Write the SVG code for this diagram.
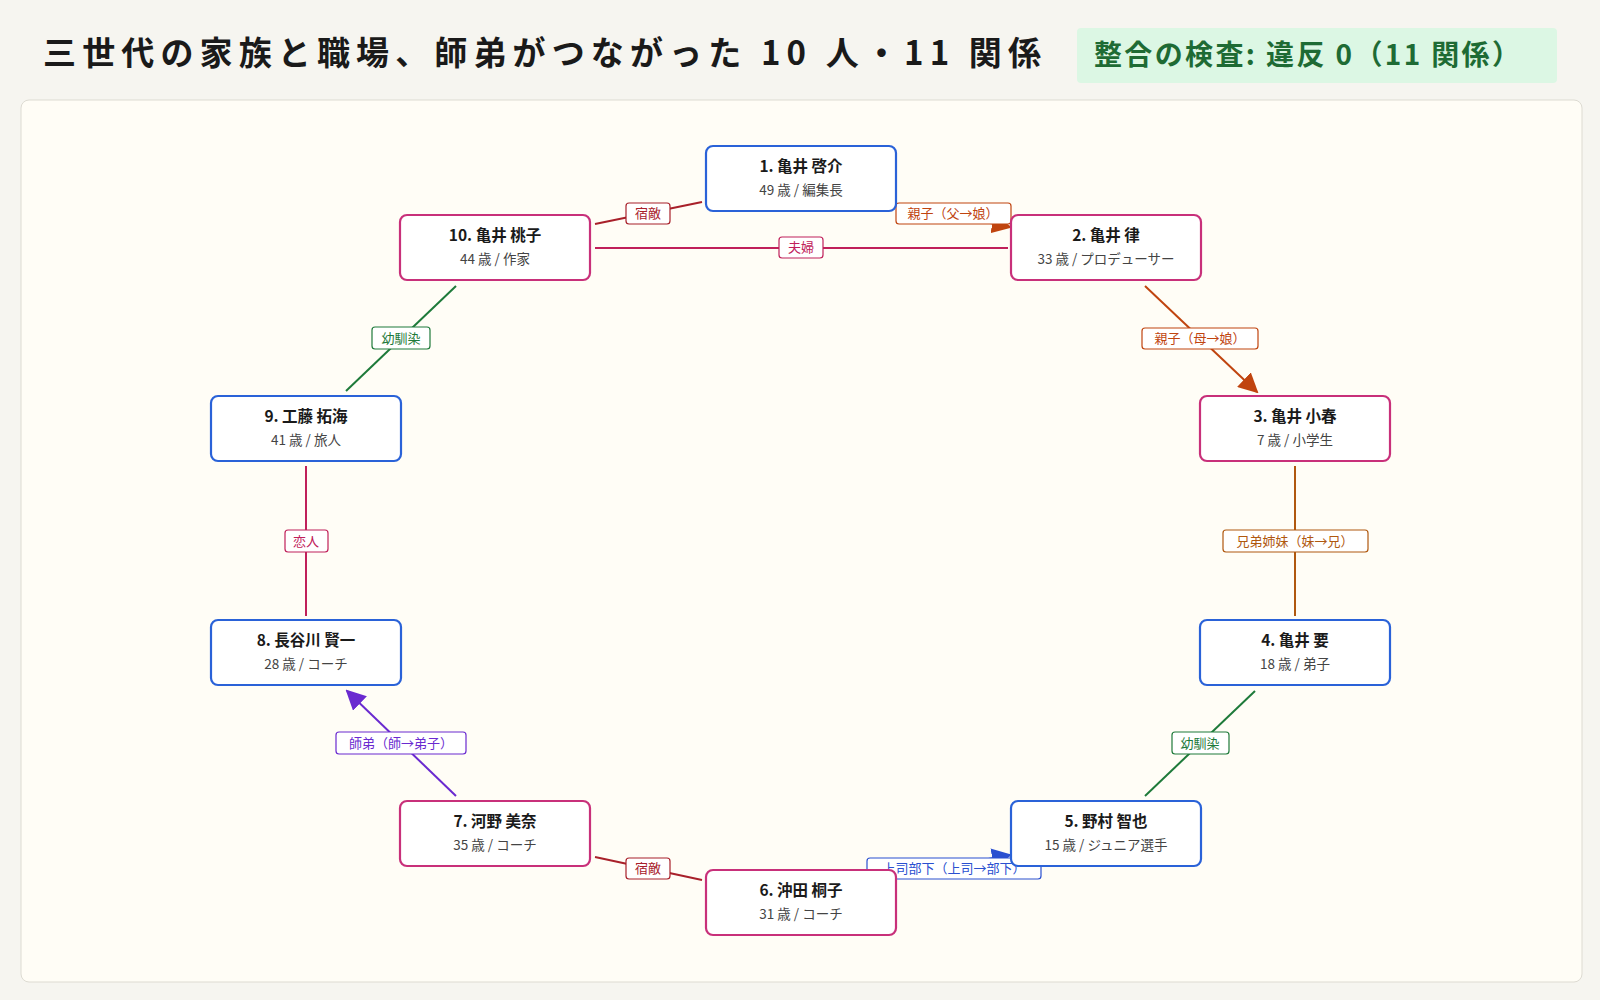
<svg xmlns="http://www.w3.org/2000/svg" width="1600" height="1000" viewBox="0 0 1600 1000">
<defs>
<style>
text{font-family:"Noto Sans CJK JP","Noto Sans",sans-serif}
.nb{fill:#fff;stroke-width:2.2}
.m{stroke:#2a62d8}.f{stroke:#c8307a}
.t{font-size:15.5px;font-weight:bold;fill:#1a1a1a;text-anchor:middle}
.s{font-size:13.5px;fill:#444;text-anchor:middle}
.e{fill:none;stroke-width:2}
.lb{fill:#fff;stroke-width:1.2}
.lt{font-size:13px;text-anchor:middle}
</style>
<marker id="aOL" viewBox="0 0 10 10" refX="9" refY="5" markerWidth="20" markerHeight="20" orient="auto" markerUnits="userSpaceOnUse"><path d="M0,0L10,5L0,10z" fill="#c0440f"/></marker>
<marker id="aB" viewBox="0 0 10 10" refX="9" refY="5" markerWidth="20" markerHeight="20" orient="auto" markerUnits="userSpaceOnUse"><path d="M0,0L10,5L0,10z" fill="#2a50d0"/></marker>
<marker id="aP" viewBox="0 0 10 10" refX="9" refY="5" markerWidth="20" markerHeight="20" orient="auto" markerUnits="userSpaceOnUse"><path d="M0,0L10,5L0,10z" fill="#6a2ad0"/></marker>
</defs>
<rect width="1600" height="1000" fill="#f6f5f0"/>
<text x="43" y="65" font-size="33" font-weight="bold" fill="#1a1a1a" textLength="998" lengthAdjust="spacing">三世代の家族と職場、師弟がつながった 10 人・11 関係</text>
<rect x="1077" y="28" width="480" height="55" rx="4" fill="#dcf7e4"/>
<text x="1094" y="65" font-size="28" font-weight="bold" fill="#1e6b34" textLength="426" lengthAdjust="spacing">整合の検査: 違反 0（11 関係）</text>
<rect x="21" y="100" width="1561" height="882" rx="8" fill="#fffdf6" stroke="#dddbd2"/>
<g id="connectors">
<line class="e" x1="595" y1="224" x2="702" y2="202" stroke="#a8202a"/>
<rect class="lb" x="626" y="203" width="44" height="21" rx="3" stroke="#a8202a"/><text class="lt" x="648" y="218" fill="#a8202a">宿敵</text>
<line class="e" x1="896" y1="204" x2="1010" y2="227" stroke="#c0440f" marker-end="url(#aOL)"/>
<rect class="lb" x="896" y="203" width="115" height="21" rx="3" stroke="#c0440f"/><text class="lt" x="953" y="218" fill="#c0440f">親子（父→娘）</text>
<line class="e" x1="595" y1="248" x2="1008" y2="248" stroke="#c0205a"/>
<rect class="lb" x="779" y="237" width="44" height="21" rx="3" stroke="#c0205a"/><text class="lt" x="801" y="252" fill="#c0205a">夫婦</text>
<line class="e" x1="1145" y1="286" x2="1257" y2="392" stroke="#c0440f" marker-end="url(#aOL)"/>
<rect class="lb" x="1142" y="328" width="116" height="21" rx="3" stroke="#c0440f"/><text class="lt" x="1200" y="343" fill="#c0440f">親子（母→娘）</text>
<line class="e" x1="1295" y1="466" x2="1295" y2="616" stroke="#b0580f"/>
<rect class="lb" x="1223" y="530" width="145" height="22" rx="3" stroke="#b0580f"/><text class="lt" x="1295" y="546" fill="#b0580f">兄弟姉妹（妹→兄）</text>
<line class="e" x1="1255" y1="691" x2="1145" y2="796" stroke="#1e7a3a"/>
<rect class="lb" x="1172" y="732" width="57" height="22" rx="3" stroke="#1e7a3a"/><text class="lt" x="1200" y="748" fill="#1e7a3a">幼馴染</text>
<line class="e" x1="896" y1="876" x2="1010" y2="855" stroke="#2a50d0" marker-end="url(#aB)"/>
<rect class="lb" x="867" y="858" width="174" height="21" rx="3" stroke="#2a50d0"/><text class="lt" x="954" y="873" fill="#2a50d0">上司部下（上司→部下）</text>
<line class="e" x1="595" y1="857" x2="702" y2="880" stroke="#a8202a"/>
<rect class="lb" x="626" y="858" width="44" height="21" rx="3" stroke="#a8202a"/><text class="lt" x="648" y="873" fill="#a8202a">宿敵</text>
<line class="e" x1="456" y1="796" x2="347" y2="691" stroke="#6a2ad0" marker-end="url(#aP)"/>
<rect class="lb" x="336" y="732" width="130" height="22" rx="3" stroke="#6a2ad0"/><text class="lt" x="401" y="748" fill="#6a2ad0">師弟（師→弟子）</text>
<line class="e" x1="306" y1="466" x2="306" y2="616" stroke="#c0205a"/>
<rect class="lb" x="285" y="530" width="43" height="22" rx="3" stroke="#c0205a"/><text class="lt" x="306" y="546" fill="#c0205a">恋人</text>
<line class="e" x1="346" y1="391" x2="456" y2="286" stroke="#1e7a3a"/>
<rect class="lb" x="372" y="327" width="58" height="22" rx="3" stroke="#1e7a3a"/><text class="lt" x="401" y="343" fill="#1e7a3a">幼馴染</text>
</g>
<g id="n1"><rect class="nb m" x="706" y="146" width="190" height="65" rx="7"/><text class="t" x="801" y="172">1. 亀井 啓介</text><text class="s" x="801" y="195">49 歳 / 編集長</text></g>
<g id="n2"><rect class="nb f" x="1011" y="215" width="190" height="65" rx="7"/><text class="t" x="1106" y="241">2. 亀井 律</text><text class="s" x="1106" y="264">33 歳 / プロデューサー</text></g>
<g id="n3"><rect class="nb f" x="1200" y="396" width="190" height="65" rx="7"/><text class="t" x="1295" y="422">3. 亀井 小春</text><text class="s" x="1295" y="445">7 歳 / 小学生</text></g>
<g id="n4"><rect class="nb m" x="1200" y="620" width="190" height="65" rx="7"/><text class="t" x="1295" y="646">4. 亀井 要</text><text class="s" x="1295" y="669">18 歳 / 弟子</text></g>
<g id="n5"><rect class="nb m" x="1011" y="801" width="190" height="65" rx="7"/><text class="t" x="1106" y="827">5. 野村 智也</text><text class="s" x="1106" y="850">15 歳 / ジュニア選手</text></g>
<g id="n6"><rect class="nb f" x="706" y="870" width="190" height="65" rx="7"/><text class="t" x="801" y="896">6. 沖田 桐子</text><text class="s" x="801" y="919">31 歳 / コーチ</text></g>
<g id="n7"><rect class="nb f" x="400" y="801" width="190" height="65" rx="7"/><text class="t" x="495" y="827">7. 河野 美奈</text><text class="s" x="495" y="850">35 歳 / コーチ</text></g>
<g id="n8"><rect class="nb m" x="211" y="620" width="190" height="65" rx="7"/><text class="t" x="306" y="646">8. 長谷川 賢一</text><text class="s" x="306" y="669">28 歳 / コーチ</text></g>
<g id="n9"><rect class="nb m" x="211" y="396" width="190" height="65" rx="7"/><text class="t" x="306" y="422">9. 工藤 拓海</text><text class="s" x="306" y="445">41 歳 / 旅人</text></g>
<g id="n10"><rect class="nb f" x="400" y="215" width="190" height="65" rx="7"/><text class="t" x="495" y="241">10. 亀井 桃子</text><text class="s" x="495" y="264">44 歳 / 作家</text></g>
</svg>
